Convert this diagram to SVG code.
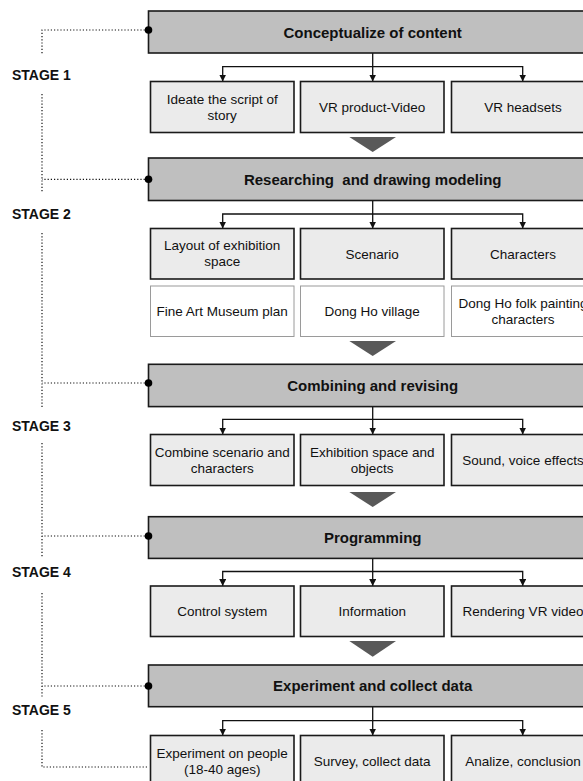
<svg xmlns="http://www.w3.org/2000/svg" width="583" height="781" viewBox="0 0 583 781">
<defs>
<marker id="arr" viewBox="0 0 8 8" refX="8" refY="4" markerWidth="7" markerHeight="7" markerUnits="userSpaceOnUse" orient="auto">
<path d="M0,0 L8,4 L0,8 Z" fill="#111"/>
</marker>
</defs>
<style>
text{font-family:"Liberation Sans",Arial,Helvetica,sans-serif;fill:#111}
.hdr{fill:#bfbfbf;stroke:#1a1a1a;stroke-width:1.6}
.hdr-t{font-size:15px;font-weight:bold;text-anchor:middle;white-space:pre}
.box{fill:#ebebeb;stroke:#1a1a1a;stroke-width:1.6}
.wbox{fill:#ffffff;stroke:#9a9a9a;stroke-width:1}
.bt{font-size:13.5px;text-anchor:middle}
.stage{font-size:14px;font-weight:bold}
.tri{fill:#595959}
.dot{fill:#000}
.dl{fill:none;stroke:#111;stroke-width:1.2;stroke-dasharray:1.2 2}
.conA{fill:none;stroke:#111;stroke-width:1.3;marker-end:url(#arr)}
</style>

<g id="stages">
<text class="stage" x="12" y="80">STAGE 1</text>
<text class="stage" x="12" y="219">STAGE 2</text>
<text class="stage" x="12" y="431">STAGE 3</text>
<text class="stage" x="12" y="577">STAGE 4</text>
<text class="stage" x="12" y="715">STAGE 5</text>
</g>

<g id="connectors">
<path class="dl" d="M148,30 H42 V54"/>
<path class="dl" d="M42,94 V193"/>
<path class="dl" d="M148,179.3 H42"/>
<path class="dl" d="M42,233 V408"/>
<path class="dl" d="M148,383 H42"/>
<path class="dl" d="M42,443 V557"/>
<path class="dl" d="M148,536 H42"/>
<path class="dl" d="M42,593 V697"/>
<path class="dl" d="M148,686 H42"/>
<path class="dl" d="M42,730 V767 H148"/>
<path class="conA" d="M372.7,53 V81.5"/>
<path class="conA" d="M372.7,66.7 H222.7 V81.5"/>
<path class="conA" d="M372.7,66.7 H522.7 V81.5"/>
<path class="conA" d="M372.7,200 V228.5"/>
<path class="conA" d="M372.7,214 H222.7 V228.5"/>
<path class="conA" d="M372.7,214 H522.7 V228.5"/>
<path class="conA" d="M372.7,406 V434.5"/>
<path class="conA" d="M372.7,419.3 H222.7 V434.5"/>
<path class="conA" d="M372.7,419.3 H522.7 V434.5"/>
<path class="conA" d="M372.7,558.5 V586"/>
<path class="conA" d="M372.7,571.5 H222.7 V586"/>
<path class="conA" d="M372.7,571.5 H522.7 V586"/>
<path class="conA" d="M372.7,707 V735.5"/>
<path class="conA" d="M372.7,720.7 H222.7 V735.5"/>
<path class="conA" d="M372.7,720.7 H522.7 V735.5"/>
</g>

<g id="h1"><rect class="hdr" x="148.5" y="11" width="449" height="42"/><text class="hdr-t" x="372.7" y="38">Conceptualize of content</text><circle class="dot" cx="148.5" cy="30" r="3.8"/></g>
<g id="c1a"><rect class="box" x="150.5" y="81.5" width="143.5" height="51"/><text class="bt" x="222.2" y="104">Ideate the script of</text><text class="bt" x="222.2" y="120">story</text></g>
<g id="c1b"><rect class="box" x="300.5" y="81.5" width="143.5" height="51"/><text class="bt" x="372.2" y="112">VR product-Video</text></g>
<g id="c1c"><rect class="box" x="451.5" y="81.5" width="143.5" height="51"/><text class="bt" x="523" y="112">VR headsets</text></g>
<g id="t1"><path class="tri" d="M349.3,137 H396 L372.7,152 Z"/></g>

<g id="h2"><rect class="hdr" x="148.5" y="158" width="449" height="42.5"/><text class="hdr-t" x="372.7" y="184.5" xml:space="preserve">Researching  and drawing modeling</text><circle class="dot" cx="148.5" cy="179.3" r="3.8"/></g>
<g id="c2a"><rect class="box" x="150.5" y="228.5" width="143.5" height="50.5"/><text class="bt" x="222.2" y="250">Layout of exhibition</text><text class="bt" x="222.2" y="266">space</text></g>
<g id="c2b"><rect class="box" x="300.5" y="228.5" width="143.5" height="50.5"/><text class="bt" x="372.2" y="258.5">Scenario</text></g>
<g id="c2c"><rect class="box" x="451.5" y="228.5" width="143.5" height="50.5"/><text class="bt" x="523" y="258.5">Characters</text></g>
<g id="w2a"><rect class="wbox" x="150.5" y="286" width="143.5" height="50.5"/><text class="bt" x="222.2" y="316">Fine Art Museum plan</text></g>
<g id="w2b"><rect class="wbox" x="300.5" y="286" width="143.5" height="50.5"/><text class="bt" x="372.2" y="316">Dong Ho village</text></g>
<g id="w2c"><rect class="wbox" x="451.5" y="286" width="143.5" height="50.5"/><text class="bt" x="523" y="308">Dong Ho folk painting</text><text class="bt" x="523" y="324">characters</text></g>
<g id="t2"><path class="tri" d="M349.3,341 H396 L372.7,356 Z"/></g>

<g id="h3"><rect class="hdr" x="148.5" y="364.3" width="449" height="42.3"/><text class="hdr-t" x="372.7" y="390.5">Combining and revising</text><circle class="dot" cx="148.5" cy="383" r="3.8"/></g>
<g id="c3a"><rect class="box" x="150.5" y="434.5" width="143.5" height="51"/><text class="bt" x="222.2" y="457">Combine scenario and</text><text class="bt" x="222.2" y="473">characters</text></g>
<g id="c3b"><rect class="box" x="300.5" y="434.5" width="143.5" height="51"/><text class="bt" x="372.2" y="457">Exhibition space and</text><text class="bt" x="372.2" y="473">objects</text></g>
<g id="c3c"><rect class="box" x="451.5" y="434.5" width="143.5" height="51"/><text class="bt" x="523" y="465">Sound, voice effects</text></g>
<g id="t3"><path class="tri" d="M349.3,492 H396 L372.7,507 Z"/></g>

<g id="h4"><rect class="hdr" x="148.5" y="516.7" width="449" height="41.7"/><text class="hdr-t" x="372.7" y="542.5">Programming</text><circle class="dot" cx="148.5" cy="536" r="3.8"/></g>
<g id="c4a"><rect class="box" x="150.5" y="586" width="143.5" height="50.5"/><text class="bt" x="222.2" y="616">Control system</text></g>
<g id="c4b"><rect class="box" x="300.5" y="586" width="143.5" height="50.5"/><text class="bt" x="372.2" y="616">Information</text></g>
<g id="c4c"><rect class="box" x="451.5" y="586" width="143.5" height="50.5"/><text class="bt" x="523" y="616">Rendering VR video</text></g>
<g id="t4"><path class="tri" d="M349.3,641 H396 L372.7,656.7 Z"/></g>

<g id="h5"><rect class="hdr" x="148.5" y="665" width="449" height="41.7"/><text class="hdr-t" x="372.7" y="691">Experiment and collect data</text><circle class="dot" cx="148.5" cy="686" r="3.8"/></g>
<g id="c5a"><rect class="box" x="150.5" y="735.5" width="143.5" height="51"/><text class="bt" x="222.2" y="758">Experiment on people</text><text class="bt" x="222.2" y="774">(18-40 ages)</text></g>
<g id="c5b"><rect class="box" x="300.5" y="735.5" width="143.5" height="51"/><text class="bt" x="372.2" y="766">Survey, collect data</text></g>
<g id="c5c"><rect class="box" x="451.5" y="735.5" width="143.5" height="51"/><text class="bt" x="523" y="766">Analize, conclusion</text></g>
</svg>
